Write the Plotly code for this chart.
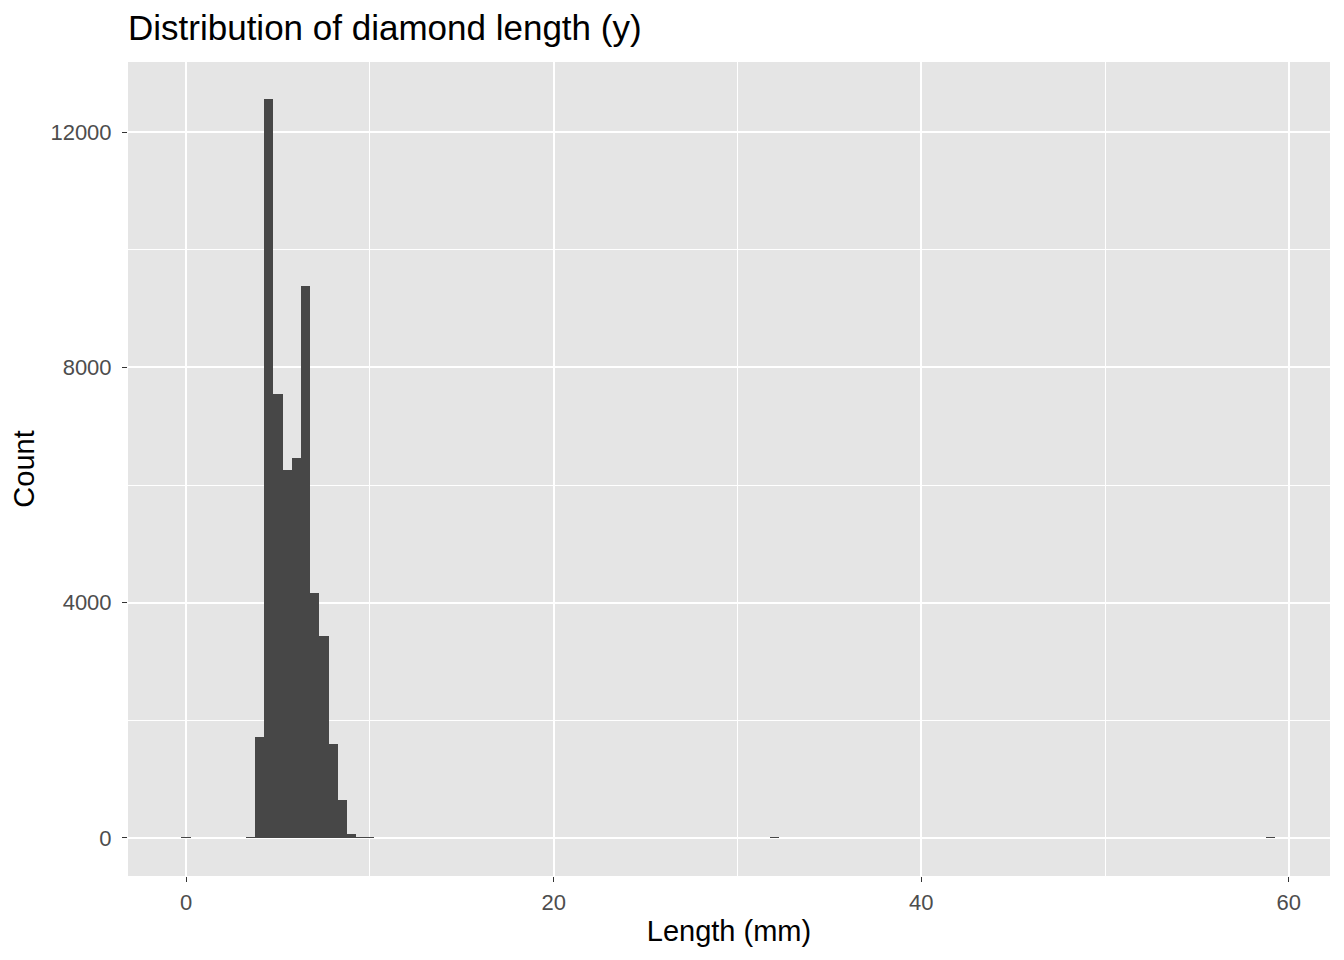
import plotly.graph_objects as go

# bin centres (mm), binwidth 0.5, and counts
bin_centres = [0.0, 3.5, 4.0, 4.5, 5.0, 5.5, 6.0, 6.5, 7.0, 7.5, 8.0, 8.5, 9.0, 9.5, 10.0, 32.0, 59.0]
counts = [7, 9, 1717, 12560, 7550, 6255, 6460, 9380, 4165, 3435, 1600, 645, 70, 15, 5, 1, 1]
bin_width = 0.5

x_ticks = [0, 20, 40, 60]
y_ticks = [0, 4000, 8000, 12000]

fig = go.Figure()
fig.add_trace(go.Bar(
    x=bin_centres, y=counts, width=bin_width,
    marker=dict(color="#474747", line=dict(width=0)),
))

font = "Liberation Sans, Arial, Helvetica"
axis_common = dict(
    showline=False, zeroline=False,
    gridcolor="white", gridwidth=2,
    ticks="outside", ticklen=5, tickwidth=1.2, tickcolor="#333333",
    tickfont=dict(family=font, size=22, color="#4d4d4d"),
    title_font=dict(family=font, size=29, color="black"),
)

# the page adds an 8px offset, so the figure is a bit smaller than the window
W, H = 1336, 952
fig.update_layout(
    width=W, height=H,
    paper_bgcolor="white", plot_bgcolor="#e5e5e5",
    margin=dict(l=120, r=14, t=54, b=84),
    bargap=0, showlegend=False,
    title=dict(text="Distribution of diamond length (y)", x=120 / W, xanchor="left",
               y=1 - 20 / H, yanchor="middle",
               font=dict(family=font, size=35, color="black")),
    xaxis=dict(axis_common, range=[-3.16, 62.24], tickvals=x_ticks,
               ticktext=[str(v) for v in x_ticks], title_text="Length (mm)",
               title_standoff=6, ticklabelstandoff=2,
               minor=dict(dtick=10, tick0=0, showgrid=True, gridcolor="white", gridwidth=1, ticks="")),
    yaxis=dict(axis_common, range=[-646, 13190], tickvals=y_ticks,
               ticktext=[str(v) for v in y_ticks], title_text="Count",
               title_standoff=8, ticklabelstandoff=6,
               minor=dict(dtick=2000, tick0=0, showgrid=True, gridcolor="white", gridwidth=1, ticks="")),
)

fig.write_html("out.html")
